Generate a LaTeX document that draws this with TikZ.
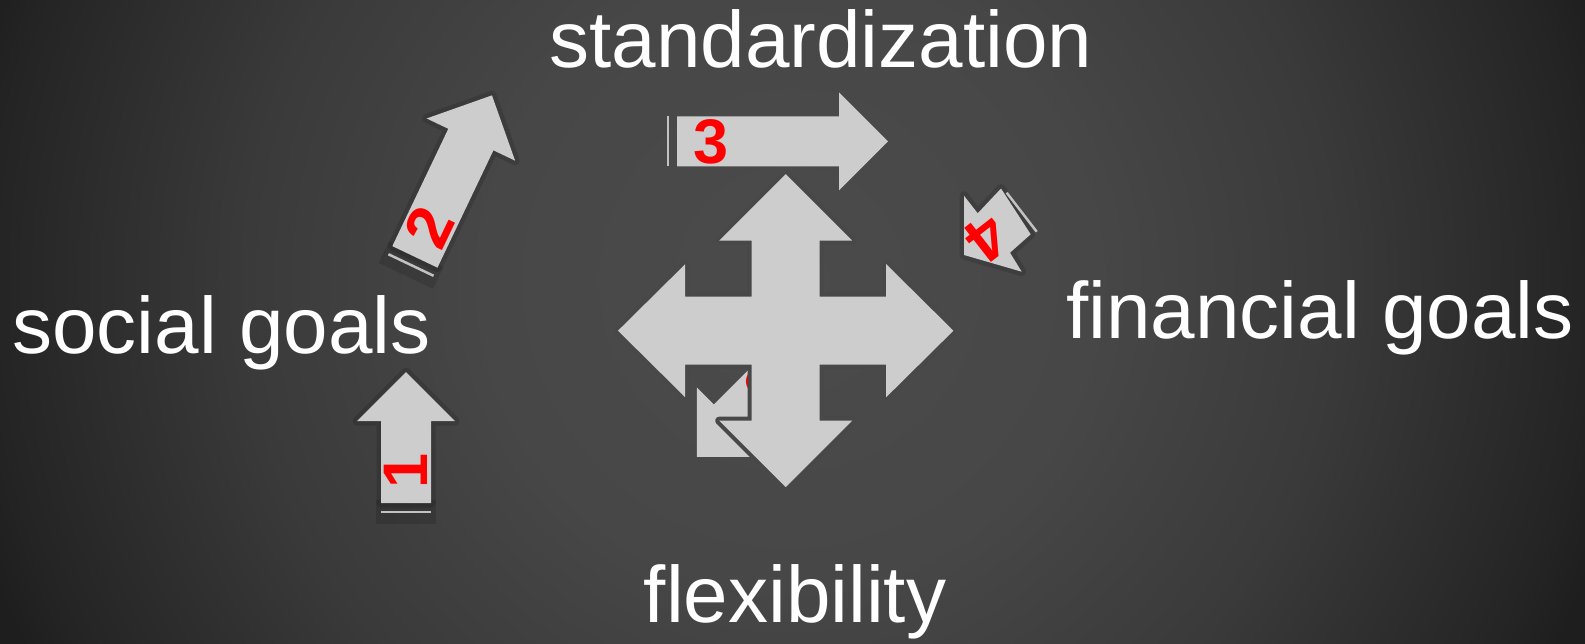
\documentclass[tikz,border=0pt]{standalone}
\usepackage{fontspec}
\setmainfont{Liberation Sans}
\usetikzlibrary{calc}

\definecolor{bgA}{HTML}{4B4B4B}
\definecolor{bgB}{HTML}{474747}
\definecolor{bgC}{HTML}{3A3A3A}
\definecolor{bgD}{HTML}{242424}
\definecolor{bgE}{HTML}{1E1E1E}
\definecolor{arrowfill}{HTML}{CDCDCD}
\definecolor{tailline}{HTML}{C2C2C2}
\definecolor{rimdark}{HTML}{484848}

% the path's bounding box maps to the 25bp circle
\pgfdeclareradialshading{bgglow}{\pgfpoint{0bp}{0bp}}{%
  color(0bp)=(bgA); color(9bp)=(bgB); color(16bp)=(bgC);
  color(23.5bp)=(bgD); color(25bp)=(bgE); color(50bp)=(bgE)}

% block arrow pointing along local +x, tail at the origin, shaft length #1
\newcommand{\blockarrow}[1]{(0,-25) -- (#1,-25) -- (#1,-49) -- ({#1+49},0) -- (#1,49) -- (#1,25) -- (0,25) -- cycle}

\tikzset{
  label text/.style={text=white, font=\fontsize{80}{90}\selectfont, inner sep=0pt, anchor=base},
  digit/.style={text=red, font=\fontsize{63}{63}\selectfont\bfseries, inner sep=0pt, transform shape},
  arrow body/.style={fill=arrowfill},
  arrow shade/.style={fill=black, draw=black, fill opacity=0.13, draw opacity=0.13, line width=9pt, line join=round},
  tail mark/.style={draw=tailline, line width=2.5pt},
}

\begin{document}
\begin{tikzpicture}[x=1pt,y=-1pt]
\useasboundingbox (0,0) rectangle (1585,643);

% background glow
\begin{scope}
  \clip (0,0) rectangle (1585,643);
  \shade[shading=bgglow] (-60,-570) rectangle (1640,1130);
\end{scope}

% arrow 1 (pointing up)
\begin{scope}[shift={(406,503)}, rotate=90]
  \fill[black, opacity=0.13] (-21,-30) rectangle (3,30);
  \path[arrow shade] \blockarrow{82};
  \path[arrow body] \blockarrow{82};
  \draw[tail mark] (-9,-25) -- (-9,25);
  \begin{scope}
    \clip \blockarrow{82};
    \node[digit] (n1) at (32,0) {1};
  \end{scope}
\end{scope}

% arrow 2 (pointing up and to the right)
\begin{scope}[shift={(414.9,256.9)}, rotate=64.5]
  \fill[black, opacity=0.13] (-21,-30) rectangle (3,30);
  \path[arrow shade] \blockarrow{130};
  \path[arrow body] \blockarrow{130};
  \draw[tail mark] (-9,-25) -- (-9,25);
  \begin{scope}
    \clip \blockarrow{130};
    \node[digit] (n2) at (33,0) {2};
  \end{scope}
\end{scope}

% arrow 3 (pointing right)
\begin{scope}[shift={(677,141.4)}]
  \path[arrow body] \blockarrow{162};
  \draw[tail mark] (-9,-25) -- (-9,25);
  \begin{scope}
    \clip \blockarrow{162};
    \node[digit] (n3) at (34,0) {3};
  \end{scope}
\end{scope}

% arrow 4 (short, pointing down-left, cut at its tip)
\coordinate (a4a) at (964,195.7);
\coordinate (a4b) at (977.7,213.3);
\coordinate (a4c) at (1001,188.5);
\coordinate (a4d) at (1030.7,234.3);
\coordinate (a4e) at (1010,252.7);
\coordinate (a4f) at (1021.7,271.7);
\coordinate (a4g) at (964,255);
\path[arrow shade] (a4a) -- (a4b) -- (a4c) -- (a4d) -- (a4e) -- (a4f) -- (a4g) -- cycle;
\path[arrow body] (a4a) -- (a4b) -- (a4c) -- (a4d) -- (a4e) -- (a4f) -- (a4g) -- cycle;
\coordinate (t4a) at (1006.7,192.7);
\coordinate (t4b) at (1036.7,231.7);
\draw[tail mark] (t4a) -- (t4b);
\begin{scope}
  \clip (a4a) -- (a4b) -- (a4c) -- (a4d) -- (a4e) -- (a4f) -- (a4g) -- cycle;
  \node[digit, rotate=218] (n4) at (987,238) {4};
\end{scope}

% arrow 5 (pointing down-left, mostly behind the cross)
\begin{scope}[shift={(793.8,360)}, rotate=225]
  \path[arrow body] \blockarrow{88};
  \begin{scope}
    \clip \blockarrow{88};
    \node[digit] (n5) at (37,0) {5};
  \end{scope}
\end{scope}

% four-way cross
\begin{scope}[shift={(785.7,330.7)}]
  \def\crosspath{(0,-156.5) -- (66.5,-90) -- (34,-90) -- (34,-34) -- (100.5,-34) -- (100.5,-66.5) -- (167.7,0) -- (100.5,66.5) -- (100.5,34) -- (34,34) -- (34,90) -- (66.5,90) -- (0,156.5) -- (-66.5,90) -- (-34,90) -- (-34,34) -- (-100.5,34) -- (-100.5,66.5) -- (-167.7,0) -- (-100.5,-66.5) -- (-100.5,-34) -- (-34,-34) -- (-34,-90) -- (-66.5,-90) -- cycle}
  \draw[rimdark, line width=8pt, line join=round] \crosspath;
  \fill[arrowfill] \crosspath;
\end{scope}

% labels
\node[label text] (std) at (821,67) {standardization};
\node[label text] (soc) at (221.5,353) {social goals};
\node[label text] (fin) at (1320,338) {financial goals};
\node[label text] (flx) at (795,622) {flexibility};
\end{tikzpicture}
\end{document}
